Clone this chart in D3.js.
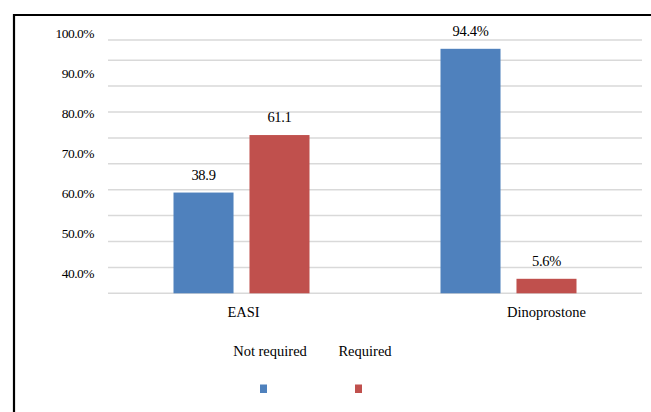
<!DOCTYPE html>
<html>
<head>
<meta charset="utf-8">
<script src="https://cdn.jsdelivr.net/npm/d3@7"></script>
<style>
  html, body { margin: 0; padding: 0; background: #fff; }
</style>
</head>
<body>
<svg id="chart" width="651" height="412"></svg>
<script>
// Categories and the two series (percent of cases)
const categories = ["EASI", "Dinoprostone"];
const seriesNames = ["Not required", "Required"];
const notRequired = [38.9, 94.4];
const required = [61.1, 5.6];
const labelSuffix = ["", "%"];
const yTickLabels = ["100.0%", "90.0%", "80.0%", "70.0%", "60.0%", "50.0%", "40.0%"];
const colors = ["#4f81bd", "#c0504d"];
const serif = "'Liberation Serif', monospace";

const svg = d3.select("#chart");

// Outer frame
svg.append("path")
  .attr("d", "M14,412 L14,15 L651,15")
  .attr("fill", "none")
  .attr("stroke", "#000")
  .attr("stroke-width", 2.2);

const plot = { left: 108, right: 642, top: 40, bottom: 293.3 };

const x = d3.scaleBand().domain(categories).range([plot.left, plot.right]).padding(0);
const sub = d3.scaleBand().domain(seriesNames).range([0, 136]).paddingInner(0.21);
const y = d3.scaleLinear().domain([0, 97.8]).range([plot.bottom, plot.top]);

// Gridlines
const gridVals = d3.range(0, 100, 10).concat([y.domain()[1]]);
svg.append("g").selectAll("line").data(gridVals).join("line")
  .attr("x1", plot.left).attr("x2", plot.right)
  .attr("y1", d => y(d)).attr("y2", d => y(d))
  .attr("stroke", "#d9d9d9").attr("stroke-width", 1.5);

// Value-axis labels
const yl = d3.scalePoint().domain(yTickLabels).range([35, 275]);
svg.append("g").selectAll("text").data(yTickLabels).join("text")
  .attr("x", 94).attr("y", d => yl(d))
  .attr("text-anchor", "end").attr("dominant-baseline", "middle")
  .style("font-family", serif)
  .attr("font-size", 13.5).attr("letter-spacing", -0.5)
  .attr("fill", "#000")
  .text(d => d);

// Bars
const rows = categories.map((c, i) => ({
  cat: c, i,
  vals: [notRequired[i], required[i]]
}));

const groupWidth = sub.range()[1];
const groups = svg.append("g").selectAll("g").data(rows).join("g")
  .attr("transform", d => `translate(${x(d.cat) + (x.bandwidth() - groupWidth) / 2},0)`);

groups.selectAll("rect").data(d => d.vals.map((v, k) => ({ v, k, i: d.i }))).join("rect")
  .attr("x", d => sub(seriesNames[d.k]))
  .attr("width", sub.bandwidth())
  .attr("y", d => y(d.v))
  .attr("height", d => y(0) - y(d.v))
  .attr("fill", d => colors[d.k]);

groups.selectAll("text").data(d => d.vals.map((v, k) => ({ v, k, i: d.i }))).join("text")
  .attr("x", d => sub(seriesNames[d.k]) + sub.bandwidth() / 2)
  .attr("y", d => y(d.v) - 16)
  .attr("text-anchor", "middle").attr("dominant-baseline", "middle")
  .style("font-family", serif)
  .attr("font-size", 14.5).attr("letter-spacing", -0.3)
  .attr("fill", "#000")
  .text(d => d.v.toFixed(1) + labelSuffix[d.i]);

// Category labels
const catOffset = [2, 38];
svg.append("g").selectAll("text").data(categories).join("text")
  .attr("x", (d, i) => x(d) + x.bandwidth() / 2 + catOffset[i])
  .attr("y", 313.5)
  .attr("text-anchor", "middle").attr("dominant-baseline", "middle")
  .style("font-family", serif)
  .attr("font-size", 14.5).attr("fill", "#000")
  .text(d => d);

// Legend
const legendX = [270, 365];
const legend = svg.append("g").selectAll("g").data(seriesNames).join("g");
legend.append("text")
  .attr("x", (d, i) => legendX[i]).attr("y", 352.5)
  .attr("text-anchor", "middle").attr("dominant-baseline", "middle")
  .style("font-family", serif)
  .attr("font-size", 14.5).attr("fill", "#000")
  .text(d => d);
legend.append("rect")
  .attr("x", (d, i) => legendX[i] - 10).attr("y", 384.5)
  .attr("width", 7).attr("height", 8.5)
  .attr("fill", (d, i) => colors[i]);
</script>
</body>
</html>
